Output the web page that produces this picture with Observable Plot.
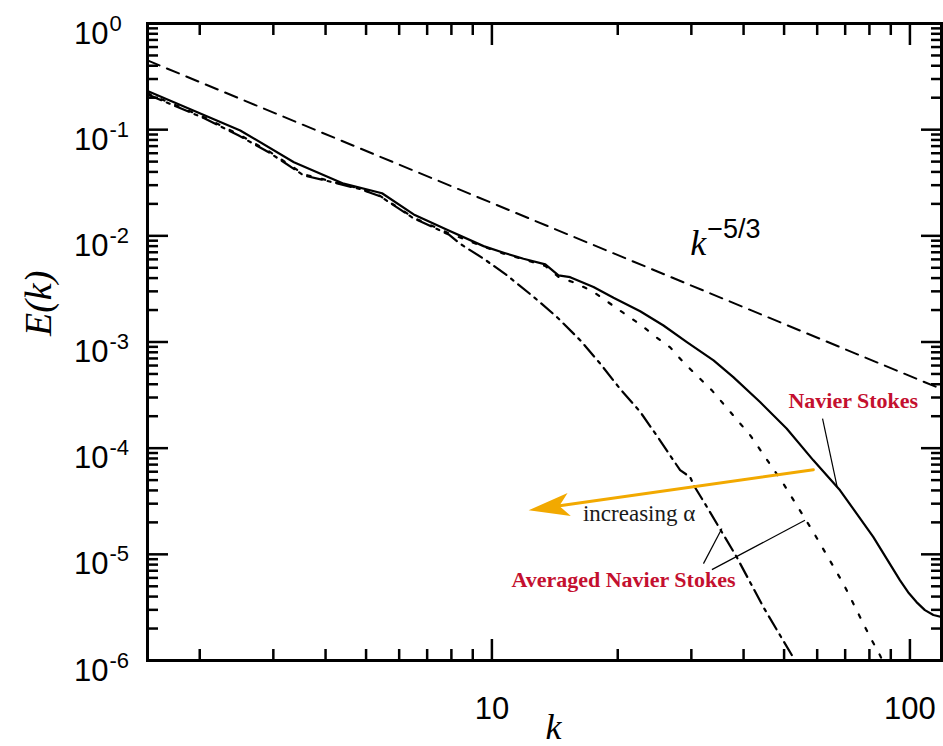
<!DOCTYPE html>
<html>
<head>
<meta charset="utf-8">
<script src="https://cdn.jsdelivr.net/npm/d3@7"></script>
<script src="https://cdn.jsdelivr.net/npm/@observablehq/plot@0.6"></script>
<style>
html, body { margin: 0; padding: 0; background: #fff; overflow: hidden; }
#chart svg { display: block; }
</style>
</head>
<body>
<div id="chart"></div>
<script>
// ---------- data ----------
// Navier–Stokes spectrum (solid)
const nsK = [1.5, 2.5, 3.36, 4.42, 5.46, 6.5, 7.81, 9.55, 10.67, 11.9, 13.42, 14.43, 15.39, 17.5, 19.54, 22.63, 25.73, 29.27, 33.9, 37.8, 43.8, 50.7, 58.75, 68.05, 81.7, 94.7, 99, 103.7, 108.6, 113.8, 119];
const nsE = [0.231, 0.0983, 0.0494, 0.031, 0.0252, 0.0159, 0.0114, 0.0080, 0.00693, 0.00608, 0.00538, 0.00424, 0.00408, 0.00329, 0.00261, 0.00195, 0.00143, 0.000998, 0.000671, 0.000467, 0.000272, 0.000153, 7.68e-5, 4.01e-5, 1.46e-5, 5.69e-6, 4.4e-6, 3.55e-6, 2.98e-6, 2.68e-6, 2.57e-6];

// Averaged Navier–Stokes, smaller alpha (dotted)
const dotK = [1.5, 2.05, 2.48, 2.95, 3.55, 3.96, 4.85, 5.41, 6.5, 7.88, 9.55, 10.67, 11.9, 13.42, 14.43, 15.67, 17.35, 20.6, 22.6, 24.8, 26.7, 28.7, 33.6, 41.5, 49.8, 58.75, 69.3, 80.3, 84.8, 87];
const dotE = [0.22, 0.131, 0.0901, 0.0614, 0.0379, 0.034, 0.0278, 0.0237, 0.0148, 0.0106, 0.0079, 0.0068, 0.0060, 0.0052, 0.0041, 0.00365, 0.00303, 0.00189, 0.00147, 0.00110, 0.000890, 0.000645, 0.00035, 0.000132, 4.63e-5, 1.62e-5, 5.3e-6, 1.66e-6, 1.12e-6, 0.9e-6];

// Averaged Navier–Stokes, larger alpha (dash-dot)
const ddK = [1.5, 2.05, 2.48, 2.95, 3.55, 3.96, 4.85, 5.41, 6.5, 7.88, 8.4, 9.55, 10.87, 12.6, 14.3, 16.26, 18.16, 20.28, 22.63, 25.26, 28.2, 29.8, 30.4, 32.7, 38.5, 44.6, 52.2, 54.5];
const ddE = [0.215, 0.128, 0.088, 0.06, 0.037, 0.0335, 0.0275, 0.0235, 0.0146, 0.0103, 0.0084, 0.0061, 0.00424, 0.00265, 0.00172, 0.00104, 0.000625, 0.00036, 0.00022, 0.000118, 6.2e-5, 5.35e-5, 4.47e-5, 2.79e-5, 9.44e-6, 3.19e-6, 1.12e-6, 0.85e-6];

// k^{-5/3} reference line (dashed)
const refK = [1.5, 119];
const refE = [0.449, 3.6e-4];

// ticks and tick labels
const xMajor = [10, 100];
const xMajorLabels = ["10", "100"];
const xMinor = [2, 3, 4, 5, 6, 7, 8, 9, 20, 30, 40, 50, 60, 70, 80, 90];
const yMajor = [1, 1e-1, 1e-2, 1e-3, 1e-4, 1e-5, 1e-6];
const yMajorBase = ["10", "10", "10", "10", "10", "10", "10"];
const yMajorExp = ["0", "-1", "-2", "-3", "-4", "-5", "-6"];
const yMinor = [];
for (const d of [1e-6, 1e-5, 1e-4, 1e-3, 1e-2, 1e-1]) for (const m of [2, 3, 4, 5, 6, 7, 8, 9]) yMinor.push(m * d);

// annotations
const labelText = ["Navier Stokes", "Averaged Navier Stokes"];
const labelK = [73.2, 20.64];
const labelE = [2.37e-4, 4.89e-6];
const alphaText = "increasing \u03b1";
const alphaK = 22.5, alphaE = 2.05e-5;
const slopeK = 29.8, slopeE = 6.54e-3;
const arrowK = [58.75, 12.24];   // start, tip
const arrowE = [6.27e-5, 2.6e-5];
const leaderK1 = [61.8, 32.07, 33.6];
const leaderE1 = [1.90e-4, 8.17e-6, 7.18e-6];
const leaderK2 = [67.0, 35.5, 56.1];
const leaderE2 = [4.3e-5, 1.75e-5, 2.09e-5];

// ---------- layout ----------
const W = 943, H = 746;
const mL = 147, mR = 2, mT = 23, mB = 86;
const xDomain = [1.5, 119], yDomain = [1e-6, 1];
const RED = "#c4102f", ORANGE = "#f2a900";
const SANS = "'Liberation Sans', Arial, sans-serif";
const SERIF = "'Liberation Serif', 'Times New Roman', serif";

const rows = (ks, es) => ks.map((k, i) => ({k, e: es[i]}));
const ns = rows(nsK, nsE), dot = rows(dotK, dotE), dd = rows(ddK, ddE), ref = rows(refK, refE);

// arrow direction in screen space, for rotating the arrowhead
const xs = Plot.scale({x: {type: "log", domain: xDomain, range: [mL, W - mR]}});
const ys = Plot.scale({y: {type: "log", domain: yDomain, range: [H - mB, mT]}});
const adx = xs.apply(arrowK[1]) - xs.apply(arrowK[0]);
const ady = ys.apply(arrowE[1]) - ys.apply(arrowE[0]);
const arrowAngle = Math.atan2(ady, adx) * 180 / Math.PI - 180;
const arrowHead = {
  draw(ctx) {
    ctx.moveTo(0, 0);
    ctx.lineTo(41, -11.5);
    ctx.lineTo(31, 0);
    ctx.lineTo(41, 11.5);
    ctx.closePath();
  }
};

const tickW = 2.5;
const chart = Plot.plot({
  width: W, height: H,
  marginLeft: mL, marginRight: mR, marginTop: mT, marginBottom: mB,
  x: {type: "log", domain: xDomain},
  y: {type: "log", domain: yDomain},
  style: {fontFamily: SANS, background: "white", color: "black"},
  marks: [
    // ticks (inward, on all four sides)
    Plot.axisX(xMajor, {anchor: "bottom", tickSize: -21, strokeWidth: tickW, fill: "none", label: null}),
    Plot.axisX(xMinor, {anchor: "bottom", tickSize: -11, strokeWidth: tickW, fill: "none", label: null}),
    Plot.axisX(xMajor, {anchor: "top", tickSize: -21, strokeWidth: tickW, fill: "none", label: null}),
    Plot.axisX(xMinor, {anchor: "top", tickSize: -11, strokeWidth: tickW, fill: "none", label: null}),
    Plot.axisY(yMajor, {anchor: "left", tickSize: -21, strokeWidth: tickW, fill: "none", label: null}),
    Plot.axisY(yMinor, {anchor: "left", tickSize: -11, strokeWidth: tickW, fill: "none", label: null}),
    Plot.axisY(yMajor, {anchor: "right", tickSize: -21, strokeWidth: tickW, fill: "none", label: null}),
    Plot.axisY(yMinor, {anchor: "right", tickSize: -11, strokeWidth: tickW, fill: "none", label: null}),

    // tick labels
    Plot.text(xMajor, {x: d => d, text: (d, i) => xMajorLabels[i], frameAnchor: "bottom", lineAnchor: "bottom", dy: 58, fontSize: 31, fontFamily: SANS}),
    Plot.text(yMajor, {y: d => d, text: (d, i) => yMajorBase[i], frameAnchor: "left", textAnchor: "end", lineAnchor: "bottom", dx: -39, dy: 20, fontSize: 31, fontFamily: SANS}),
    Plot.text(yMajor, {y: d => d, text: (d, i) => yMajorExp[i], frameAnchor: "left", textAnchor: "start", lineAnchor: "bottom", dx: -38, dy: 7, fontSize: 22, fontFamily: SANS}),

    // axis labels
    Plot.text(["E(k)"], {text: d => d, frameAnchor: "left", rotate: -90, lineAnchor: "bottom", dx: -97, dy: -6, fontSize: 38, fontStyle: "italic", fontFamily: SERIF}),
    Plot.text(["k"], {text: d => d, frameAnchor: "bottom", lineAnchor: "bottom", dx: 9, dy: 78, fontSize: 36, fontStyle: "italic", fontFamily: SERIF}),

    // curves
    Plot.line(ref, {x: "k", y: "e", stroke: "black", strokeWidth: 2, strokeDasharray: "13,8", clip: true}),
    Plot.line(dd, {x: "k", y: "e", stroke: "black", strokeWidth: 2.2, strokeDasharray: "15,6,3,6", clip: true}),
    Plot.line(dot, {x: "k", y: "e", stroke: "black", strokeWidth: 2.2, strokeDasharray: "3.5,11.5", clip: true}),
    Plot.line(ns, {x: "k", y: "e", stroke: "black", strokeWidth: 2.2, clip: true}),

    // slope label k^{-5/3}
    Plot.text([{k: slopeK, e: slopeE}], {x: "k", y: "e", text: () => "k", textAnchor: "start", lineAnchor: "bottom", fontSize: 36, fontStyle: "italic", fontFamily: SERIF}),
    Plot.text([{k: slopeK, e: slopeE}], {x: "k", y: "e", text: () => "\u22125/3", textAnchor: "start", lineAnchor: "bottom", dx: 17, dy: -17, fontSize: 27, fontFamily: SANS}),

    // orange arrow
    Plot.arrow([0], {x1: arrowK[0], y1: arrowE[0], x2: arrowK[1], y2: arrowE[1], stroke: ORANGE, strokeWidth: 3, headLength: 0, insetEnd: 26}),
    Plot.dot([{k: arrowK[1], e: arrowE[1]}], {x: "k", y: "e", symbol: arrowHead, rotate: arrowAngle, fill: ORANGE, stroke: "none"}),
    Plot.text([{k: alphaK, e: alphaE}], {x: "k", y: "e", text: () => alphaText, lineAnchor: "bottom", fontSize: 23, fontFamily: SERIF, fill: "#1a1a1a"}),

    // leader lines
    Plot.link([0, 1, 2], {x1: i => leaderK1[i], y1: i => leaderE1[i], x2: i => leaderK2[i], y2: i => leaderE2[i], stroke: "black", strokeWidth: 1.2}),

    // red labels
    Plot.text(labelText, {x: (d, i) => labelK[i], y: (d, i) => labelE[i], text: d => d, lineAnchor: "bottom", fontSize: 22, fontWeight: "bold", fontFamily: SERIF, fill: RED}),

    Plot.frame({stroke: "black", strokeWidth: 3})
  ]
});
document.getElementById("chart").append(chart);
</script>
</body>
</html>
